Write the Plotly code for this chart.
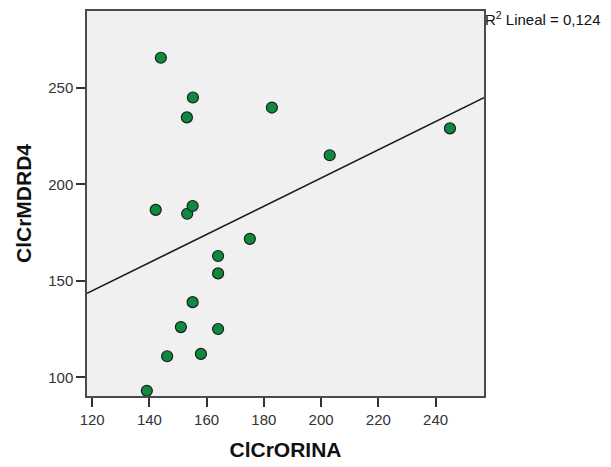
import numpy as np
import plotly.graph_objects as go

clcr_orina = [144.0, 155.2, 153.1, 182.8, 203.0, 245.0, 142.2, 153.2, 155.1,
              175.1, 164.0, 164.0, 155.1, 151.0, 164.0, 146.2, 158.0, 139.1]
clcr_mdrd4 = [265.6, 245.0, 234.7, 239.8, 215.1, 229.0, 186.8, 184.8, 188.8,
              171.8, 162.9, 153.9, 139.0, 126.1, 125.1, 111.0, 112.2, 93.1]
x_ticks = [120, 140, 160, 180, 200, 220, 240]
y_ticks = [100, 150, 200, 250]
r2_label = "0,124"
x_range = [118.2, 256.9]
y_range = [90.4, 289.8]

x = np.array(clcr_orina)
y = np.array(clcr_mdrd4)
slope, intercept = np.polyfit(x, y, 1)
line_x = np.array(x_range)
line_y = intercept + slope * line_x

FONT = "Liberation Sans, Arial"

fig = go.Figure()
fig.add_trace(go.Scatter(x=line_x, y=line_y, mode="lines",
                         line=dict(color="#1a1a1a", width=1.6),
                         hoverinfo="skip", showlegend=False))
fig.add_trace(go.Scatter(x=x, y=y, mode="markers",
                         marker=dict(size=11, color="#0e8a3e",
                                     line=dict(color="#1c1c1c", width=1.2)),
                         showlegend=False))

axis_common = dict(showgrid=False, zeroline=False, showline=True,
                   linecolor="#4a4a4a", linewidth=1.5, mirror=True,
                   ticks="outside", ticklen=9, tickcolor="#333333", tickwidth=1.5,
                   tickfont=dict(family=FONT, size=15, color="#333333"))

# page body has an 8px margin, so the figure is sized and offset to compensate
fig.update_layout(
    width=603, height=459,
    margin=dict(l=79, r=127, t=1, b=71),
    paper_bgcolor="white", plot_bgcolor="#f0f0f0",
    xaxis=dict(range=x_range, tickvals=x_ticks,
               title=dict(text="<b>ClCrORINA</b>", standoff=16,
                          font=dict(family=FONT, size=21, color="#111111")),
               **axis_common),
    yaxis=dict(range=y_range, tickvals=y_ticks,
               title=dict(text="<b>ClCrMDRD4</b>", standoff=11,
                          font=dict(family=FONT, size=21, color="#111111")),
               **axis_common),
    annotations=[dict(xref="paper", yref="paper", x=1.0, y=1.0, xanchor="left", yanchor="top",
                      xshift=-1, yshift=4,
                      text="R<sup>2</sup> Lineal = " + r2_label,
                      showarrow=False,
                      font=dict(family=FONT, size=15, color="#111111"))],
)

fig.write_html("out.html")
